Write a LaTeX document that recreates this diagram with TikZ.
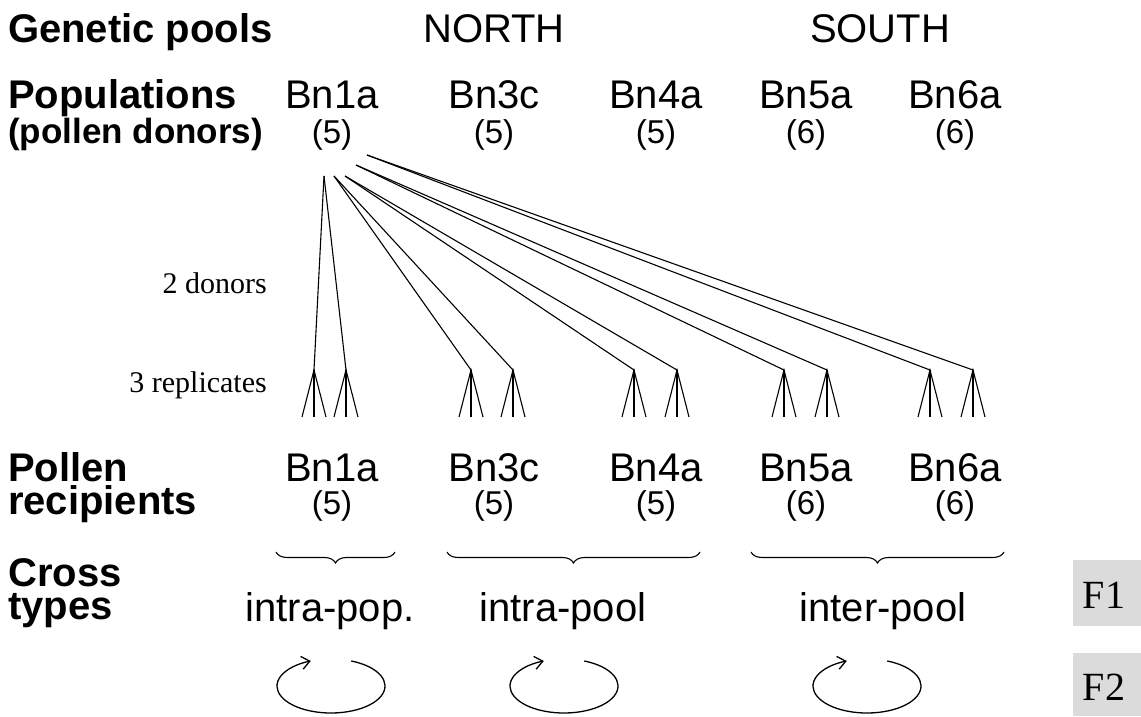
\documentclass[tikz,border=0pt]{standalone}
\usepackage{fontspec}
\setmainfont{Liberation Sans}
\newfontfamily\tms{Liberation Serif}
\usetikzlibrary{decorations.pathreplacing,arrows.meta}
\begin{document}
\begin{tikzpicture}[x=1pt,y=1pt,
  big/.style={font=\fontsize{40}{40}\selectfont, inner sep=0pt, anchor=base},
  cnt/.style={font=\fontsize{33}{33}\selectfont, inner sep=0pt, anchor=base},
  lbl/.style={font=\fontsize{40}{40}\selectfont\bfseries, inner sep=0pt, anchor=base west},
  lbltwo/.style={font=\fontsize{40}{33}\selectfont\bfseries, inner sep=0pt, anchor=base west, align=left},
  lbls/.style={font=\fontsize{35}{35}\selectfont\bfseries, inner sep=0pt, anchor=base west},
  note/.style={font=\tms\fontsize{30}{30}\selectfont, inner sep=0pt, anchor=base east},
  wire/.style={line width=1.1pt},
  brc/.style={decorate, decoration={brace,mirror,amplitude=11pt}, line width=1.1pt},
  cyc/.style={line width=1.3pt, -{Straight Barb[length=8pt,width=13pt,line width=1.3pt]}},
  fbox/.style={fill=black!14}
]
\useasboundingbox (0,0) rectangle (1141,-716);
% row labels
\node[lbl] (gp) at (8,-42) {Genetic pools};
\node[big] (north) at (494,-42) {NORTH};
\node[big] (south) at (880,-42) {SOUTH};
\node[lbl] (pop) at (8,-108) {Populations};
\node[lbls] (pd) at (8,-143) {(pollen donors)};
\node[lbltwo] (pr) at (8,-514) {Pollen\\recipients};
\node[lbltwo] (ct) at (8,-619) {Cross\\types};
\node[note] (don) at (267,-293) {2 donors};
\node[note] (rep) at (267,-392) {3 replicates};
% populations
\foreach \n/\x/\k in {1a/332/5,3c/494/5,4a/656/5,5a/806/6,6a/955/6}{
  \node[big] (d\n) at (\x,-108) {Bn\n};
  \node[cnt] (dc\n) at (\x,-143) {(\k)};
  \node[big] (r\n) at (\x,-481) {Bn\n};
  \node[cnt] (rc\n) at (\x,-514) {(\k)};
}
% start points of the donor lines
\coordinate (s1) at (324,-176);
\coordinate (s2) at (334,-176);
\coordinate (s3) at (345,-176);
\coordinate (s4) at (356,-165);
\coordinate (s5) at (367,-155);
% fan apexes and lines
\foreach \i/\x/\s in {1/314/s1,2/346/s1,3/471/s2,4/513/s2,5/634/s3,6/677/s3,7/784/s4,8/827/s4,9/930/s5,10/973/s5}{
  \coordinate (a\i) at (\x,-370);
  \coordinate (b\i l) at (\x-12,-417);
  \coordinate (b\i m) at (\x,-417);
  \coordinate (b\i r) at (\x+12,-417);
  \draw[wire] (\s) -- (a\i);
  \draw[wire] (b\i l) -- (a\i) -- (b\i r);
  \draw[wire] (a\i) -- (b\i m);
}
% braces
\coordinate (br1a) at (276,-552); \coordinate (br1b) at (395,-552);
\coordinate (br2a) at (447,-552); \coordinate (br2b) at (700,-552);
\coordinate (br3a) at (751,-552); \coordinate (br3b) at (1004,-552);
\draw[brc] (br1a) -- (br1b);
\draw[brc] (br2a) -- (br2b);
\draw[brc] (br3a) -- (br3b);
% cross types
\node[big] (t1) at (330,-621) {intra-pop.};
\node[big] (t2) at (563,-621) {intra-pool};
\node[big] (t3) at (883,-621) {inter-pool};
% cycles
\foreach \i/\x in {1/331,2/564,3/867}{
  \coordinate (cy\i) at (\x,-686);
  \draw[cyc] (cy\i) ++(68:54 and 27) arc[start angle=68,end angle=-248,x radius=54,y radius=27];
}
% F boxes
\fill[fbox] (1073,-560) rectangle (1141,-626);
\fill[fbox] (1073,-653) rectangle (1141,-716);
\node[font=\tms\fontsize{40}{40}\selectfont, inner sep=0pt, anchor=base] (f1) at (1104,-608) {F1};
\node[font=\tms\fontsize{40}{40}\selectfont, inner sep=0pt, anchor=base] (f2) at (1104,-700) {F2};
\end{tikzpicture}
\end{document}
